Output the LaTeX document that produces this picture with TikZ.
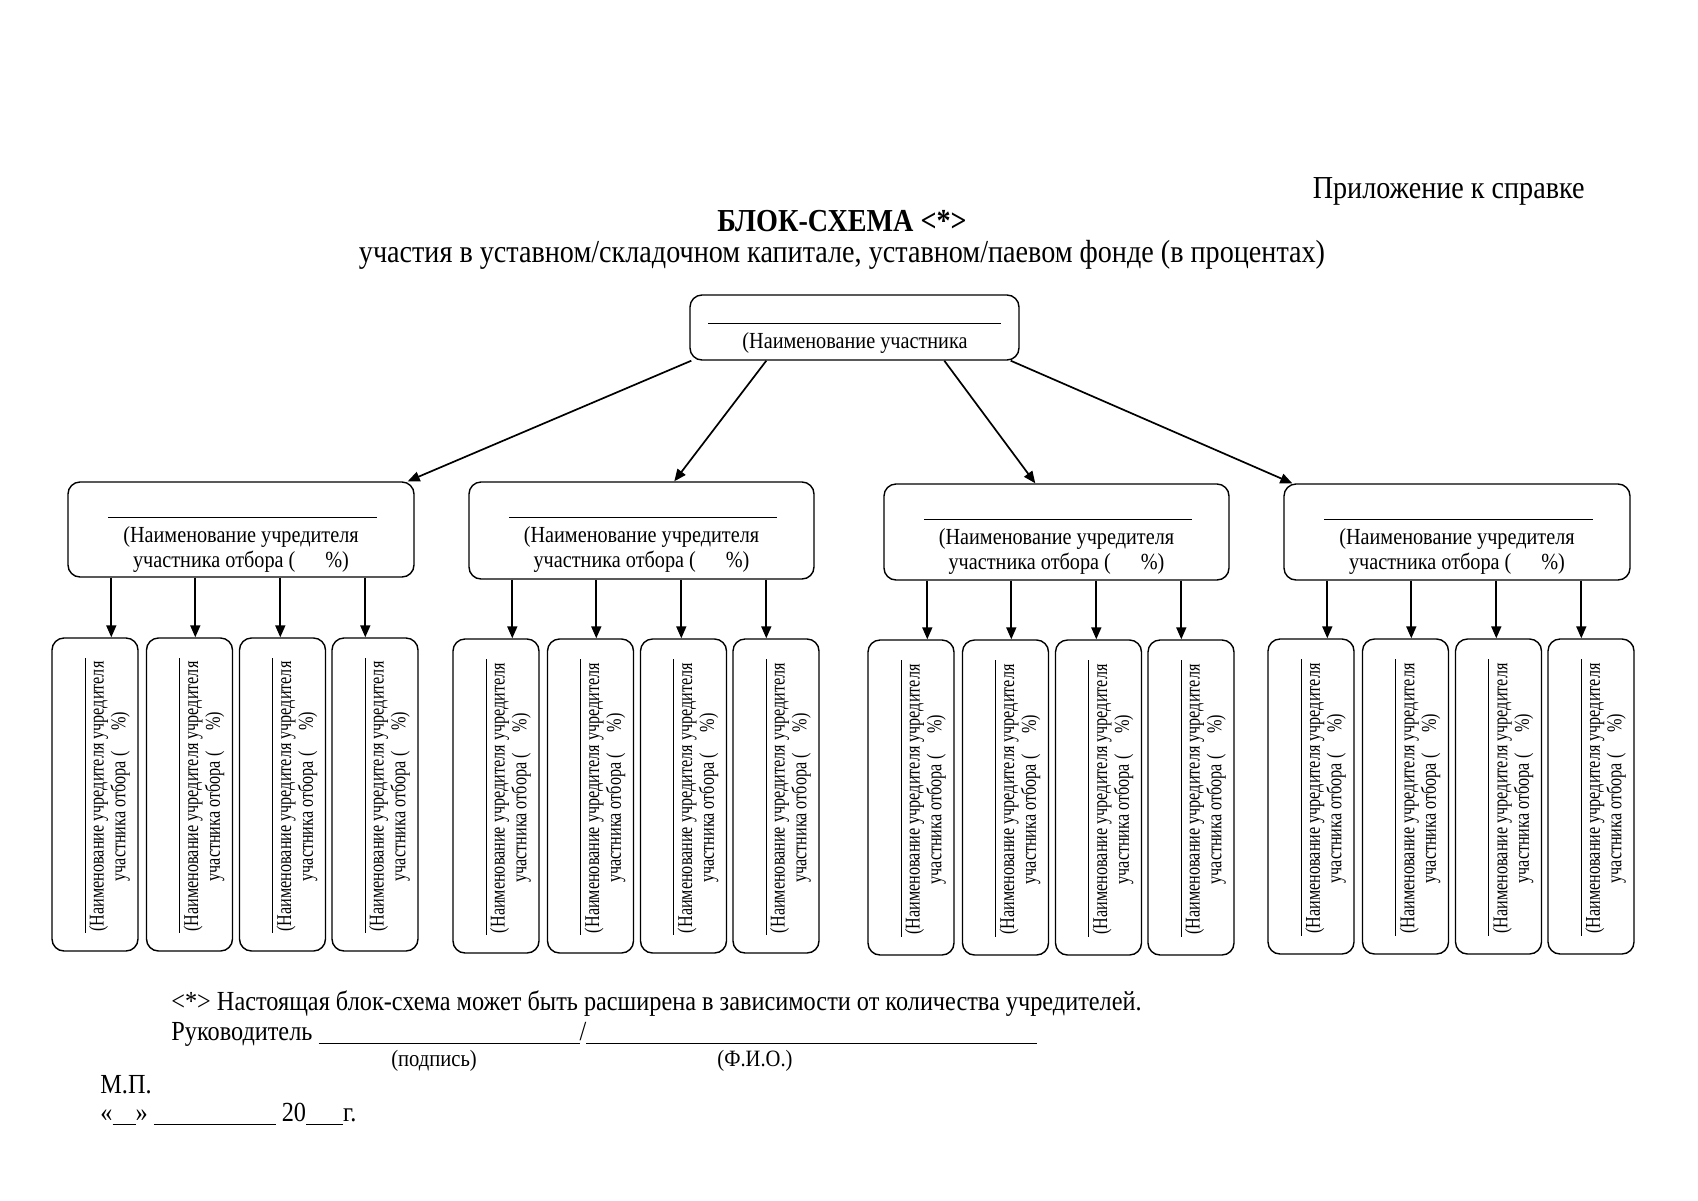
\documentclass[tikz,border=0pt]{standalone}
\usepackage{fontspec}
\setmainfont{Liberation Serif}[FakeStretch=0.88]
\newfontfamily\rotfont{Liberation Serif}[FakeStretch=0.77]
\usetikzlibrary{arrows.meta}
\newcommand\mkbox[5]{\node[box, minimum width={(#4-#2)*0.5pt}, minimum height={(#5-#3)*0.5pt}] (#1) at ({(#2+#4)/2},{(#3+#5)/2}) {};}
\begin{document}
\begin{tikzpicture}[x=0.5pt,y=-0.5pt,
  box/.style={draw, rounded corners=6pt, line width=0.7pt, inner sep=0pt},
  arr/.style={-{Triangle[length=6pt,width=5pt]}, line width=0.85pt},
  rl/.style={line width=0.5pt},
  head/.style={font=\fontsize{16}{18}\selectfont, inner sep=0pt},
  big/.style={font=\fontsize{13.8}{16}\selectfont, inner sep=0pt},
  med/.style={font=\fontsize{11.5}{12.5}\selectfont, inner sep=0pt, align=center},
  sm/.style={font=\fontsize{11.7}{13}\selectfont, inner sep=0pt},
  rot/.style={font=\rotfont\fontsize{10.5}{7.6}\selectfont, inner sep=0pt, align=center, rotate=90}]
\useasboundingbox[fill=white] (0,0) rectangle (1698,1200);
% header
\node[head, anchor=east] (app) at (1585,191) {Приложение к справке};
\node[head] (title) at (842,221) {\textbf{БЛОК-СХЕМА <*>}};
\node[head] (sub) at (842,255) {участия в уставном/складочном капитале, уставном/паевом фонде (в процентах)};
% top box
\mkbox{T}{690}{295}{1019}{360}
\draw[rl] (708,323) coordinate (tr1) -- (1001,323) coordinate (tr2);
\node[med] (Tt) at (855,343) {(Наименование участника};
% level 2
\mkbox{B1}{68}{482}{414}{577}
\mkbox{B2}{469}{482}{814}{579}
\mkbox{B3}{884}{484}{1229}{580}
\mkbox{B4}{1284}{484}{1630}{580}
\foreach \b in {1,2,3,4}{
  \draw[rl] ([xshift=20.5pt,yshift=-18pt]B\b.north west) -- ([xshift=-19pt,yshift=-18pt]B\b.north east);
  \node[med] (B\b t) at ([yshift=-33.9pt]B\b.north) {(Наименование учредителя\\участника отбора (\hspace{1.3em}\%)};
}
% arrows from top
\draw[arr] ([xshift=1pt]T.south west) -- ([xshift=-3.5pt]B1.north east);
\draw[arr] ([xshift=38.5pt]T.south west) -- ([xshift=103pt]B2.north west);
\draw[arr] ([xshift=127.5pt]T.south west) -- ([xshift=76pt]B3.north west);
\draw[arr] ([xshift=-4.5pt]T.south east) -- ([xshift=4.5pt]B4.north west);
% level 3
\foreach \g/\bl/\yt/\yb in {1/68/638/951, 2/469/639/953, 3/884/640/955, 4/1284/639/954}{
  \foreach \i/\dx/\ax in {1/-16/44, 2/78.5/128, 3/171.5/213, 4/264/298}{
    \pgfmathsetmacro\xl{\bl+\dx}
    \pgfmathsetmacro\xr{\bl+\dx+86}
    \pgfmathsetmacro\yc{(\yt+\yb)/2+2}
    \mkbox{S\g\i}{\xl}{\yt}{\xr}{\yb}
    \draw[arr] ([xshift=\ax*0.5pt]B\g.south west) coordinate (a\g\i) -- (a\g\i |- S\g\i.north);
    \draw[rl] ([xshift=17pt,yshift=-10.5pt]S\g\i.north west) -- ([xshift=17pt,yshift=9.5pt]S\g\i.south west);
    \node[rot] (S\g\i t) at (\xl+57.5,\yc) {(Наименование учредителя учредителя\\участника отбора (\hspace{1em}\%)};
  }
}
% footer
\node[big, anchor=west] (note) at (171,1004) {<*> Настоящая блок-схема может быть расширена в зависимости от количества учредителей.};
\node[big, anchor=west] (ruk) at (171,1034) {Руководитель \rule[-2pt]{130.5pt}{0.5pt}/\rule[-2pt]{225.5pt}{0.5pt}};
\node[sm] (pod) at (434,1061) {(подпись)};
\node[sm] (fio) at (755,1061) {(Ф.И.О.)};
\node[big, anchor=west] (mp) at (100,1085) {М.П.};
\node[big, anchor=west] (date) at (100,1114) {«\rule[-2pt]{11.5pt}{0.5pt}» \rule[-2pt]{61pt}{0.5pt} 20\rule[-2pt]{18.5pt}{0.5pt}г.};
\end{tikzpicture}
\end{document}
